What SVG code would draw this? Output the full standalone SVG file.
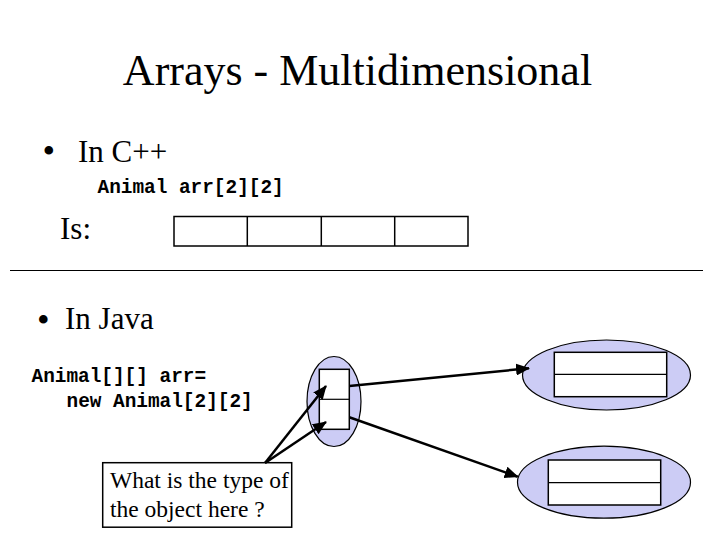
<svg xmlns="http://www.w3.org/2000/svg" width="720" height="540" viewBox="0 0 720 540">
<style>
.serif{font-family:"Liberation Serif","Times New Roman",serif;fill:#000}
.bullet{font-family:"Liberation Serif","Times New Roman",serif;fill:#000;font-size:36px}
.mono{font-family:"Liberation Mono","Courier New",monospace;font-weight:bold;fill:#000;font-size:19.4px}
.box{fill:#fff;stroke:#000;stroke-width:1.5}
.oval{fill:#ccccf5;stroke:#000;stroke-width:1.2}
.conn{stroke:#000;stroke-width:2.5;fill:none}
</style>
<defs>
<marker id="ahL" markerWidth="14" markerHeight="12" refX="13" refY="6" orient="auto" markerUnits="userSpaceOnUse" viewBox="0 0 14 12">
<path d="M0,0 L14,6 L0,12 Z" fill="#000"/>
</marker>
</defs>
<rect width="720" height="540" fill="#fff"/>

<g id="title"><text class="serif" x="357.5" y="85" font-size="44" text-anchor="middle">Arrays - Multidimensional</text></g>

<g id="cpp">
<text class="bullet" x="42.5" y="163">•</text>
<text class="serif" x="78" y="162" font-size="31">In C++</text>
<text class="mono" x="97.5" y="193">Animal arr[2][2]</text>
<text class="serif" x="60" y="239" font-size="31">Is:</text>
</g>

<g id="cpp-array">
<rect class="box" x="174" y="216.5" width="294" height="29.5"/>
<line x1="247.3" y1="216.5" x2="247.3" y2="246" stroke="#000" stroke-width="1.5"/>
<line x1="321.3" y1="216.5" x2="321.3" y2="246" stroke="#000" stroke-width="1.5"/>
<line x1="394.7" y1="216.5" x2="394.7" y2="246" stroke="#000" stroke-width="1.5"/>
</g>

<line x1="10" y1="270.5" x2="703" y2="270.5" stroke="#000" stroke-width="1.2"/>

<g id="java">
<text class="bullet" x="37" y="332">•</text>
<text class="serif" x="65" y="329" font-size="31">In Java</text>
<text class="mono" x="31.5" y="382">Animal[][] arr=</text>
<text class="mono" x="66.5" y="407">new Animal[2][2]</text>
</g>

<g id="outer-array">
<ellipse class="oval" cx="334" cy="401.5" rx="27" ry="45"/>
<rect class="box" x="319.3" y="369.3" width="30" height="60" stroke-width="1.2"/>
<line x1="319.3" y1="399.3" x2="349.3" y2="399.3" stroke="#000" stroke-width="1.2"/>
</g>

<g id="inner-array-1">
<ellipse class="oval" cx="606.5" cy="375" rx="84" ry="35"/>
<rect class="box" x="554.3" y="352.3" width="112.4" height="44.4" stroke-width="1.2"/>
<line x1="554.3" y1="374.3" x2="666.7" y2="374.3" stroke="#000" stroke-width="1.2"/>
</g>

<g id="inner-array-2">
<ellipse class="oval" cx="604" cy="482.2" rx="86.5" ry="36"/>
<rect class="box" x="548.3" y="460" width="112.4" height="45" stroke-width="1.2"/>
<line x1="548.3" y1="482.7" x2="660.7" y2="482.7" stroke="#000" stroke-width="1.2"/>
</g>

<g id="callout">
<rect class="box" x="102.7" y="462.7" width="189" height="64.5" stroke-width="1.2"/>
<text class="serif" x="110" y="488" font-size="23.5">What is the type of</text>
<text class="serif" x="110" y="517" font-size="23.5">the object here ?</text>
</g>

<g id="connectors">
<line class="conn" x1="349.3" y1="386" x2="529" y2="368.3" marker-end="url(#ahL)"/>
<line class="conn" x1="349.3" y1="417.3" x2="517.7" y2="476.7" marker-end="url(#ahL)"/>
<line class="conn" x1="265" y1="463" x2="326" y2="386" marker-end="url(#ahL)"/>
<line class="conn" x1="265" y1="463" x2="326" y2="422" marker-end="url(#ahL)"/>
</g>
</svg>
